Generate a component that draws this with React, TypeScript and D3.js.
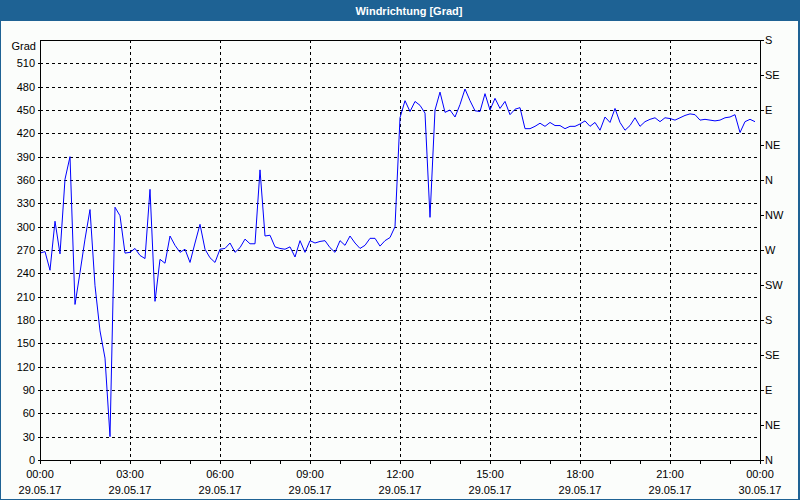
import React from "react";
import * as d3 from "d3";

const title = "Windrichtung [Grad]";
const yUnit = "Grad";
const stepMinutes = 10;
const values: number[] = [
  266, 268, 244, 307, 265, 361, 390, 200, 241, 284,
  322, 224, 166, 131, 30, 325, 314, 266, 267, 272,
  263, 259, 348, 204, 258, 253, 288, 276, 267, 271,
  254, 279, 303, 271, 260, 254, 271, 272, 279, 267,
  273, 284, 278, 278, 373, 288, 289, 274, 272, 271,
  274, 261, 282, 267, 282, 279, 281, 282, 273, 267,
  282, 276, 288, 279, 272, 276, 285, 285, 275, 282,
  286, 300, 440, 462, 448, 461, 456, 446, 312, 450,
  473, 447, 450, 441, 457, 477, 462, 449, 448, 471,
  450, 465, 452, 461, 444, 451, 453, 426, 426, 429,
  433, 429, 434, 430, 430, 426, 429, 429, 432, 436,
  429, 434, 424, 441, 434, 452, 434, 424, 430, 440,
  429, 435, 438, 440, 435, 440, 439, 437, 440, 443,
  445, 444, 437, 438, 437, 436, 437, 440, 441, 444,
  421, 435, 438, 435,
];
const yTicks = [0, 30, 60, 90, 120, 150, 180, 210, 240, 270, 300, 330, 360, 390, 420, 450, 480, 510];
const compassTicks = [0, 45, 90, 135, 180, 225, 270, 315, 360, 405, 450, 495, 540];
const compassLabels = ["N", "NE", "E", "SE", "S", "SW", "W", "NW", "N", "NE", "E", "SE", "S"];
const xTickHours = [0, 3, 6, 9, 12, 15, 18, 21, 24];
const xTimeLabels = ["00:00", "03:00", "06:00", "09:00", "12:00", "15:00", "18:00", "21:00", "00:00"];
const xDateLabels = ["29.05.17", "29.05.17", "29.05.17", "29.05.17", "29.05.17", "29.05.17", "29.05.17", "29.05.17", "30.05.17"];

const start = new Date(2017, 4, 29, 0, 0);
const end = new Date(2017, 4, 30, 0, 0);

export default function App() {
  const L = 40, R = 760, T = 40, B = 460;
  const x = d3.scaleTime().domain([start, end]).range([L, R]);
  const y = d3.scaleLinear().domain([0, 540]).range([B, T]);
  const data = values.map((v, i) => ({ t: new Date(start.getTime() + i * stepMinutes * 60000), v }));
  const line = d3.line<{ t: Date; v: number }>().x((d) => x(d.t)).y((d) => y(d.v));
  const hours = d3.range(0, 25);
  const hx = (h: number) => x(new Date(start.getTime() + h * 3600000));
  const font = "'Liberation Sans', Arial, sans-serif";
  const blue = "#1e6294";
  return (
    <svg width={800} height={500} style={{ position: "absolute", left: 0, top: 0 }} fontFamily={font}>
      <rect x={0} y={0} width={800} height={500} fill="#fbfdfb" />
      <rect x={0} y={0} width={800} height={21} fill={blue} />
      <text x={409} y={15} textAnchor="middle" fill="#ffffff" fontSize={11} fontWeight="bold">{title}</text>
      <line x1={0.5} y1={21} x2={0.5} y2={500} stroke={blue} />
      <line x1={799} y1={21} x2={799} y2={500} stroke={blue} strokeWidth={2} />
      <line x1={0} y1={499.5} x2={800} y2={499.5} stroke={blue} />
      {/* horizontal grid */}
      {yTicks.filter((v) => v > 0).map((v) => (
        <line key={"hg" + v} x1={L} x2={R} y1={Math.round(y(v)) + 0.5} y2={Math.round(y(v)) + 0.5}
          stroke="#000" strokeDasharray="3,3" />
      ))}
      {/* vertical grid */}
      {xTickHours.slice(1, -1).map((h) => (
        <line key={"vg" + h} x1={Math.round(hx(h)) + 0.5} x2={Math.round(hx(h)) + 0.5} y1={T} y2={B}
          stroke="#000" strokeDasharray="3,3" />
      ))}
      {/* data line */}
      <path d={line(data) || ""} fill="none" stroke="#0000ff" strokeWidth={1} />
      {/* frame */}
      <rect x={L + 0.5} y={T + 0.5} width={R - L} height={B - T} fill="none" stroke="#000" />
      {/* bottom ticks */}
      {hours.map((h) => (
        <line key={"bt" + h} x1={Math.round(hx(h)) + 0.5} x2={Math.round(hx(h)) + 0.5} y1={B} y2={B + 4} stroke="#000" />
      ))}
      {/* left ticks & labels */}
      {yTicks.map((v) => (
        <g key={"yl" + v}>
          <line x1={L - 2} x2={L} y1={Math.round(y(v)) + 0.5} y2={Math.round(y(v)) + 0.5} stroke="#000" />
          <text x={35} y={y(v) + 4} textAnchor="end" fontSize={11} fill="#000">{v}</text>
        </g>
      ))}
      <text x={36} y={50} textAnchor="end" fontSize={11} fill="#000">{yUnit}</text>
      {/* right ticks & labels */}
      {compassTicks.map((v, i) => (
        <g key={"rl" + i}>
          <line x1={R} x2={R + 4} y1={Math.round(y(v)) + 0.5} y2={Math.round(y(v)) + 0.5} stroke="#000" />
          <text x={765} y={y(v) + 4} fontSize={11} fill="#000">{compassLabels[i]}</text>
        </g>
      ))}
      {/* bottom labels */}
      {xTickHours.map((h, i) => (
        <g key={"xl" + h}>
          <text x={hx(h)} y={478} textAnchor="middle" fontSize={11} fill="#000">{xTimeLabels[i]}</text>
          <text x={hx(h)} y={494} textAnchor="middle" fontSize={11} fill="#000">{xDateLabels[i]}</text>
        </g>
      ))}
    </svg>
  );
}
